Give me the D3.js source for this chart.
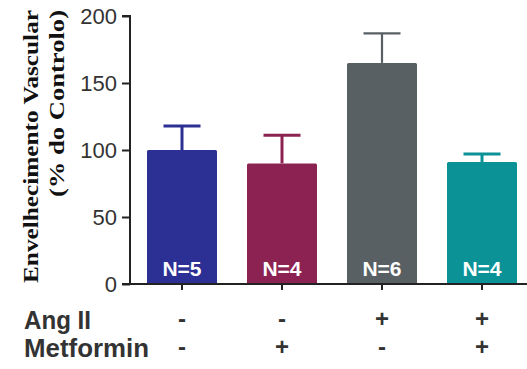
<!DOCTYPE html>
<html>
<head>
<meta charset="utf-8">
<script src="https://cdn.jsdelivr.net/npm/d3@7"></script>
<style>
  html, body { margin: 0; padding: 0; background: #fff; }
  svg { display: block; }
</style>
</head>
<body>
<svg id="chart" width="527" height="369"></svg>
<script>
// Groups and measured values (mean ± SEM, % of control)
const groups = ["G1", "G2", "G3", "G4"];
const means = [100, 90, 165, 91];
const errors = [18, 21, 22, 6];
const nLabels = ["N=5", "N=4", "N=6", "N=4"];
const barColors = ["#2c2f93", "#8c2252", "#596064", "#0b9297"];
const angII = ["-", "-", "+", "+"];
const metformin = ["-", "+", "-", "+"];
const yTicks = [0, 50, 100, 150, 200];

const svg = d3.select("#chart");
const plotLeft = 130, plotRight = 532, plotTop = 16, plotBottom = 284;

const x = d3.scaleBand().domain(groups).range([plotLeft + 2, plotLeft + 402]).paddingInner(0.3).paddingOuter(0.15);
const y = d3.scaleLinear().domain([0, 200]).range([plotBottom, plotTop]);

// Bars
svg.append("g").selectAll("rect").data(groups).join("rect")
  .attr("x", d => x(d))
  .attr("y", (d, i) => y(means[i]))
  .attr("width", x.bandwidth())
  .attr("height", (d, i) => y(0) - y(means[i]))
  .attr("rx", 1.5)
  .attr("fill", (d, i) => barColors[i]);

// Error bars (upper only)
const capW = 37;
const eb = svg.append("g");
groups.forEach((g, i) => {
  const cx = x(g) + x.bandwidth() / 2;
  const sw = i === 2 ? 2.2 : 3;
  eb.append("line")
    .attr("x1", cx).attr("x2", cx)
    .attr("y1", y(means[i])).attr("y2", y(means[i] + errors[i]))
    .attr("stroke", barColors[i]).attr("stroke-width", sw);
  eb.append("line")
    .attr("x1", cx - capW / 2).attr("x2", cx + capW / 2)
    .attr("y1", y(means[i] + errors[i])).attr("y2", y(means[i] + errors[i]))
    .attr("stroke", barColors[i]).attr("stroke-width", sw);
});

// N labels inside bars
svg.append("g").selectAll("text").data(groups).join("text")
  .attr("x", d => x(d) + x.bandwidth() / 2)
  .attr("y", 276)
  .attr("text-anchor", "middle")
  .attr("font-family", "Arial, 'Liberation Sans', sans-serif")
  .attr("font-size", 21)
  .attr("font-weight", "600")
  .attr("fill", "#fff")
  .text((d, i) => nLabels[i]);

// Y axis
const yAxis = svg.append("g")
  .attr("transform", `translate(${plotLeft},0)`)
  .call(d3.axisLeft(y).tickValues(yTicks).tickSize(8).tickPadding(5));
yAxis.select(".domain").attr("stroke", "#222").attr("stroke-width", 2)
  .attr("d", `M-8,${y(200)}H0V${y(0)}`);
yAxis.selectAll(".tick line").attr("stroke", "#222").attr("stroke-width", 2);
yAxis.selectAll(".tick text")
  .attr("font-family", "Arial, 'Liberation Sans', sans-serif")
  .attr("font-size", 22)
  .attr("fill", "#333")
  .attr("dy", "0.36em");

// X axis
const xAxis = svg.append("g")
  .attr("transform", `translate(0,${plotBottom})`)
  .call(d3.axisBottom(x).tickSize(6).tickFormat(""));
xAxis.select(".domain").attr("stroke", "#222").attr("stroke-width", 2)
  .attr("d", `M${plotLeft - 8},0H${plotRight}`);
xAxis.selectAll(".tick line").attr("stroke", "#222").attr("stroke-width", 2);

// Treatment rows
const rowFont = "Arial, 'Liberation Sans', sans-serif";
const rows = [
  { label: "Ang II", marks: angII, y: 329 },
  { label: "Metformin", marks: metformin, y: 357 }
];
rows.forEach(r => {
  svg.append("text")
    .attr("x", 24).attr("y", r.y)
    .attr("font-family", rowFont).attr("font-size", 25)
    .attr("font-weight", "600")
    .attr("fill", "#333")
    .attr("textLength", r.label === "Metformin" ? 125 : 67)
    .attr("lengthAdjust", "spacingAndGlyphs")
    .text(r.label);
  svg.append("g").selectAll("text").data(groups).join("text")
    .attr("x", d => x(d) + x.bandwidth() / 2)
    .attr("y", r.y - 2)
    .attr("text-anchor", "middle")
    .attr("font-family", rowFont).attr("font-size", 24)
    .attr("font-weight", "bold")
    .attr("fill", "#333")
    .text((d, i) => r.marks[i]);
});

// Y axis title (two rotated lines)
const title = svg.append("text")
  .attr("transform", "rotate(-90)")
  .attr("font-family", "'Times New Roman', 'Liberation Serif', serif")
  .attr("font-weight", "bold")
  .attr("font-size", 22)
  .attr("fill", "#111")
  .attr("text-anchor", "end");
title.append("tspan").attr("x", -10).attr("y", 38)
  .attr("textLength", 273).attr("lengthAdjust", "spacingAndGlyphs")
  .text("Envelhecimento Vascular");
title.append("tspan").attr("x", -10).attr("y", 64)
  .attr("textLength", 187).attr("lengthAdjust", "spacingAndGlyphs")
  .text("(% do Controlo)");
</script>
</body>
</html>
